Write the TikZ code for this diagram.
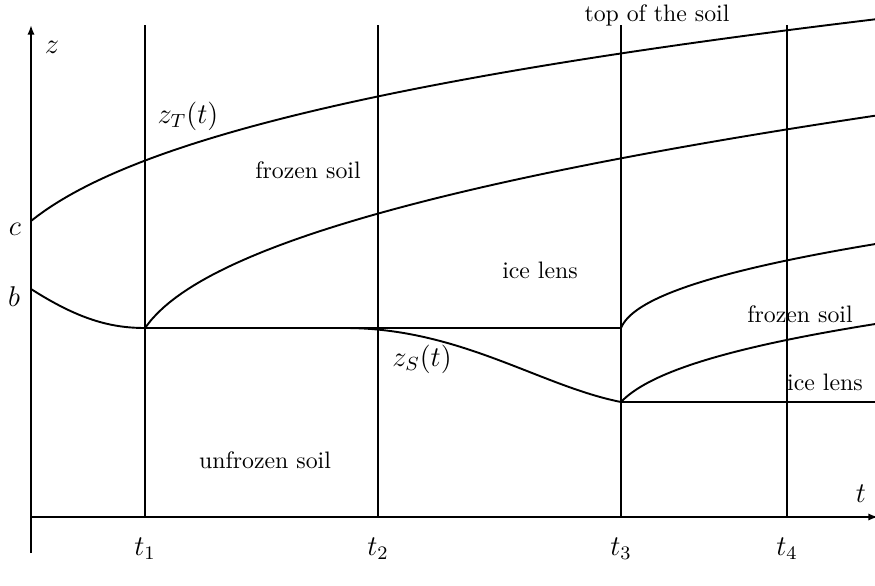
\documentclass[tikz,border=0pt]{standalone}
\usepackage{amsmath,amssymb}
\usepackage{tikz}
\usetikzlibrary{arrows.meta}

\begin{document}
\begin{tikzpicture}[
      x=0.42pt,y=-0.42pt,
      >={Latex[length=4pt,width=3pt]},
      curve/.style={thick,samples=120},
      axis/.style={thick,->},
      region/.style={font=\normalsize},
      symb/.style={font=\large}
    ]
    \useasboundingbox (0,0) rectangle (875,586);
    % axes
    \coordinate (zfoot) at (31,553);
    \coordinate (ztip) at (31,25);
    \coordinate (origin) at (31,517);
    \coordinate (ttip) at (878,517);
    \draw[axis] (zfoot) -- (ztip);
    \draw[axis] (origin) -- (ttip);
    \node[symb] (zlabel) at (52,47) {$z$};
    \node[symb] (tlabel) at (861,494) {$t$};
    \node[symb] (clabel) at (15,229) {$c$};
    \node[symb] (blabel) at (14,297) {$b$};
    % time levels
    \foreach \x/\i in {145/1,378/2,621/3,787/4}{
      \coordinate (top\i) at (\x,25);
      \coordinate (foot\i) at (\x,517);
      \draw[curve] (top\i) -- (foot\i);
      \node[symb] (t\i) at (\x,549) {$t_{\i}$};
    }
    % top of the soil z_T
    \draw[curve,domain=31:875] plot (\x,{221-47*(pow(\x+29,0.3)-3.415)});
    % frozen soil / ice lens from t1
    \draw[curve,domain=145:875] plot (\x,{328-15.1*(pow(\x-131,0.43)-3.11)});
    % freezing front z_S
    \draw[curve] (31,289) .. controls (78,319) and (110,328) .. (145,328);
    \draw[curve] (145,328) -- (621,328);
    \draw[curve] (345,328) .. controls (460,328) and (540,386) .. (621,402);
    \draw[curve] (621,402) -- (875,402);
    % new lens after t3
    \draw[curve,domain=621:875] plot (\x,{328-7.8*(pow(\x-619,0.45)-1.366)});
    \draw[curve,domain=621:875] plot (\x,{402-17.3*(pow(\x-606,0.35)-2.58)});
    % labels
    \node[symb] (zT) at (188,116) {$z_T(t)$};
    \node[symb] (zS) at (422,359) {$z_S(t)$};
    \node[region] (frozenA) at (308,170) {frozen soil};
    \node[region] (lensA) at (540,270) {ice lens};
    \node[region] (frozenB) at (800,314) {frozen soil};
    \node[region] (lensB) at (825,382) {ice lens};
    \node[region] (unfrozen) at (265,460) {unfrozen soil};
    \node[region] (soiltop) at (657,15) {top of the soil};
  \end{tikzpicture}
\end{document}
